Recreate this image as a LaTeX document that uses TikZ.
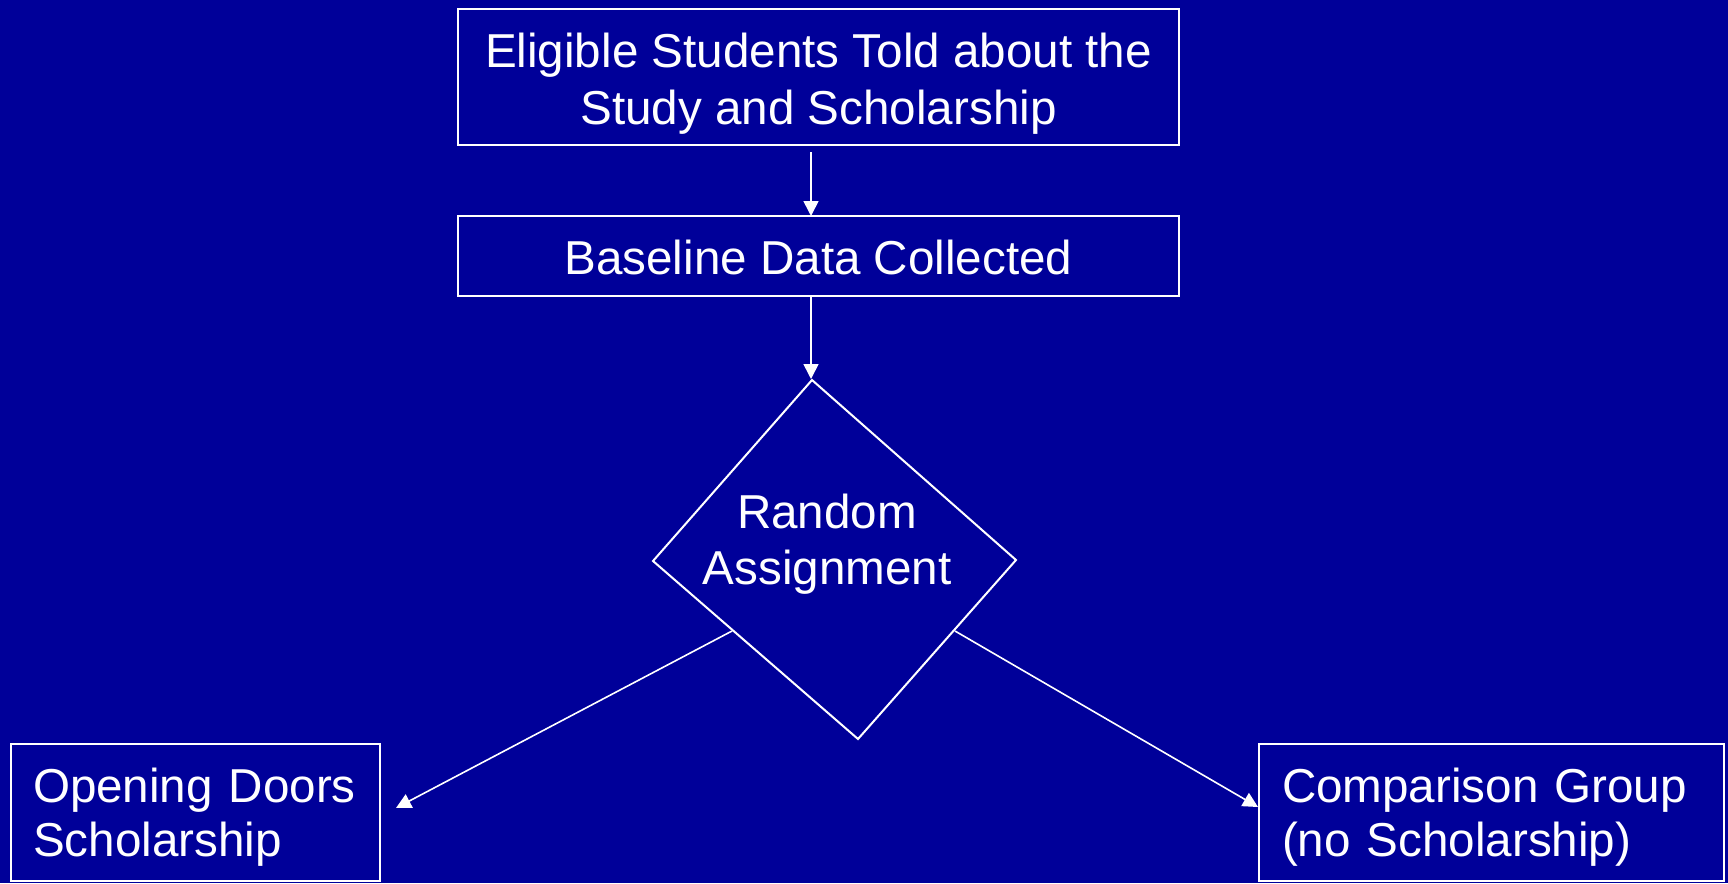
\documentclass[tikz,border=0pt]{standalone}
\usepackage{fontspec}
\setmainfont{Liberation Sans}
\usetikzlibrary{arrows.meta}
\definecolor{bgblue}{RGB}{0,0,153}
\begin{document}
\begin{tikzpicture}[x=0.5pt,y=-0.5pt,
  every node/.style={text=white,font=\fontsize{23.8pt}{28pt}\selectfont},
  stepbox/.style={draw=white,line width=1pt,rectangle,inner sep=0pt,align=center},
  sidebox/.style={draw=white,line width=1pt,rectangle,inner xsep=11pt,inner ysep=0pt,align=left,
    text height=20pt,text depth=30.5pt,font=\fontsize{23.8pt}{27pt}\selectfont},
  conn/.style={draw=white,line width=0.8pt,-{Triangle[length=7.5pt,width=7.5pt]}}]
\fill[bgblue] (0,0) rectangle (1728,883);
\useasboundingbox (0,0) rectangle (1728,883);
% boxes
\node[stepbox,minimum width=360.5pt,minimum height=68pt,text height=51pt,text depth=3.5pt,
  font=\fontsize{23.8pt}{28.5pt}\selectfont] (told) at (818.5,77)
  {Eligible Students Told about the\\Study and Scholarship};
\node[stepbox,minimum width=360.5pt,minimum height=40pt,text height=21pt,text depth=3pt] (base) at (818.5,256)
  {Baseline Data Collected};
\node[sidebox,minimum width=184.5pt,minimum height=68.5pt,text width=162.5pt] (open) at (195.5,812.5)
  {Opening Doors\\Scholarship};
\node[sidebox,minimum width=232.5pt,minimum height=68.5pt,text width=209.5pt,inner xsep=11.5pt] (comp) at (1491.5,812.5)
  {Comparison Group\\(no Scholarship)};
% diamond
\coordinate (dT) at (812,380);
\coordinate (dR) at (1016,560);
\coordinate (dB) at (858,739);
\coordinate (dL) at (653,561);
\draw[white,line width=1pt,line join=miter] (dT) -- (dR) -- (dB) -- (dL) -- cycle;
\node[align=center,inner sep=0pt,anchor=base,font=\fontsize{23.8pt}{27.75pt}\selectfont] (rand) at (827,584) {Random\\Assignment};
% connectors
\coordinate (a1s) at (811,152);
\coordinate (a1e) at (811,216);
\coordinate (a2s) at (811,296);
\coordinate (a2e) at (811,379);
\coordinate (lfs) at (732,631);
\coordinate (lfe) at (396,808);
\coordinate (rts) at (955,631);
\coordinate (rte) at (1258,807);
\draw[conn] (a1s) -- (a1e);
\draw[conn] (a2s) -- (a2e);
\draw[conn] (lfs) -- (lfe);
\draw[conn] (rts) -- (rte);
\end{tikzpicture}
\end{document}
